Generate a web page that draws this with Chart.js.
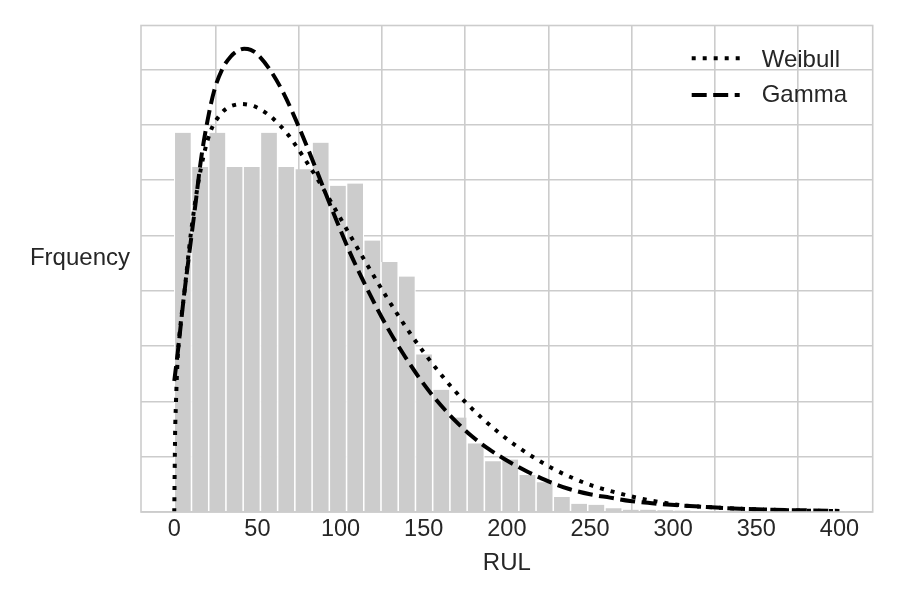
<!DOCTYPE html>
<html><head><meta charset="utf-8">
<script src="https://cdn.jsdelivr.net/npm/chart.js@4.4.1/dist/chart.umd.min.js"></script>
<style>html,body{margin:0;padding:0;background:#fff;}canvas{display:block;}</style>
</head><body>
<canvas id="c" width="900" height="600"></canvas>
<script>
// ---- data ----
const binStart = 0;
const binWidth = 10.36;
const histDensity = [0.00686,0.00624,0.00686,0.00624,0.00624,0.00686,0.00624,0.00620,0.00668,0.00590,
  0.00594,0.00491,0.00452,0.00426,0.00285,0.00221,0.00171,0.00124,0.00092,0.00095,
  0.00067,0.00054,0.00027,0.00015,0.00013,0.000067,0.000042,0.000042,0.00003,0.000025,
  0.00002,0.000015,0.000012,0.00001,0.000008,0.000006,0.000005,0.000004,0.000003];
const weibullX = [0,0.5,1,2,4,6,10,14,18,22,28,32,36,40,44,48,52,56,60,67,71,79,87,95,103,111,119,127,135,143,151,159,167,175,185,195,205,216,228,240,252,266,278,292,306,320,340,360,380,400];
const weibullY = [0,0.0014,0.00195,0.00275,0.00345,0.00395,0.00504,0.00588,0.00649,0.00690,0.00720,0.00731,0.00736,0.00738,0.00737,0.00734,0.00728,0.00720,0.00710,0.00688,0.00672,0.00636,0.00598,0.00557,0.00515,0.00473,0.00432,0.00392,0.00354,0.00318,0.00285,0.00254,0.00225,0.00199,0.00170,0.00144,0.00121,0.00099,0.00078,0.00061,0.00047,0.00035,0.00026,0.00018,0.00012,0.00009,0.00006,0.00004,0.000025,0.000015];
const gammaX = [0,2,6,9,13,16,20,24,29,34,38,42,46,50,58,66,74,82,90,98,106,114,122,130,139,147,155,163,171,179,189,199,211,223,237,250,262,274,290,304,320,340,360,380,400];
const gammaY = [0.00237,0.00286,0.00395,0.00467,0.00563,0.00636,0.00708,0.00762,0.00802,0.00824,0.00834,0.00838,0.00836,0.00828,0.00798,0.00756,0.00703,0.00645,0.00584,0.00524,0.00467,0.00416,0.00368,0.00324,0.00280,0.00244,0.00212,0.00184,0.00159,0.00137,0.00114,0.00095,0.00075,0.00058,0.00042,0.00032,0.00026,0.00020,0.00015,0.00012,0.00009,0.00006,0.00004,0.00003,0.00002];
const seriesNames = ['Weibull','Gamma'];
const xLabel = 'RUL';
const yLabel = 'Frquency';

const FONT = '"Liberation Sans", Arial, Helvetica, sans-serif';
const TEXT = '#262626';
const GRID = '#cccccc';
Chart.defaults.font.family = FONT;
Chart.defaults.color = TEXT;

const styles = {
  Weibull: {dash:[4,7]},
  Gamma: {dash:[15,6.5]}
};

const histPoints = histDensity.map((v,i)=>({x: binStart + binWidth*(i+0.5), y: v}));
const wPoints = weibullX.map((x,i)=>({x, y: weibullY[i]}));
const gPoints = gammaX.map((x,i)=>({x, y: gammaY[i]}));

const framePlugin = {
  id:'frame',
  afterDatasetsDraw(chart){
    const {ctx, chartArea:a} = chart;
    ctx.save();
    ctx.strokeStyle = GRID; ctx.lineWidth = 1.6;
    ctx.strokeRect(a.left, a.top, a.right-a.left, a.bottom-a.top);
    ctx.restore();
  },
  afterDraw(chart){
    const {ctx, chartArea:a} = chart;
    ctx.save();
    ctx.fillStyle = TEXT;
    ctx.font = '24px ' + FONT;
    ctx.textAlign = 'right'; ctx.textBaseline = 'alphabetic';
    ctx.fillText(yLabel, a.left - 11, a.top + 239);
    const items = [
      {name: seriesNames[0], ds: chart.data.datasets[1], ly: 32.8, ty: 41.2},
      {name: seriesNames[1], ds: chart.data.datasets[2], ly: 69.5, ty: 76.2}
    ];
    items.forEach(it=>{
      ctx.save();
      ctx.strokeStyle = it.ds.borderColor;
      ctx.lineWidth = it.ds.borderWidth;
      ctx.lineCap = 'butt';
      ctx.setLineDash(it.ds.borderDash);
      ctx.beginPath();
      ctx.moveTo(a.right - 181, a.top + it.ly);
      ctx.lineTo(a.right - 133, a.top + it.ly);
      ctx.stroke();
      ctx.restore();
      ctx.fillStyle = TEXT;
      ctx.font = '24px ' + FONT;
      ctx.textAlign = 'left'; ctx.textBaseline = 'alphabetic';
      ctx.fillText(it.name, a.right - 111, a.top + it.ty);
    });
    ctx.restore();
  }
};

new Chart(document.getElementById('c'), {
  type: 'line',
  data: {
    datasets: [
      {type:'bar', label:'hist', data: histPoints, backgroundColor:'#cccccc', borderColor:'#ffffff',
       borderWidth:{left:1.1,right:1.1,top:0,bottom:0}, borderSkipped:'start',
       barPercentage:1, categoryPercentage:1, order:3},
      {type:'line', label: seriesNames[0], data: wPoints, borderColor:'#000000', borderWidth:4,
       borderDash: styles.Weibull.dash, borderCapStyle:'butt', pointRadius:0, fill:false,
       cubicInterpolationMode:'monotone', order:1},
      {type:'line', label: seriesNames[1], data: gPoints, borderColor:'#000000', borderWidth:4,
       borderDash: styles.Gamma.dash, borderCapStyle:'butt', pointRadius:0, fill:false,
       cubicInterpolationMode:'monotone', order:0}
    ]
  },
  options: {
    responsive:false, animation:false, devicePixelRatio:1,
    layout:{padding:{left:141, right:27.3, top:25.5, bottom:22.6}},
    plugins:{legend:{display:false}, tooltip:{enabled:false}},
    scales:{
      x:{type:'linear', min:-20, max:420, offset:false,
         grid:{color:GRID, lineWidth:1.6, drawTicks:false},
         border:{display:false},
         ticks:{stepSize:50, includeBounds:false, autoSkip:false, maxRotation:0, padding:3,
                font:{size:23.5}, color:TEXT, callback:(v)=>String(v)},
         title:{display:true, text:xLabel, font:{size:24}, color:TEXT, padding:{top:2.4, bottom:0}}},
      y:{type:'linear', min:0, max:0.0088,
         grid:{color:GRID, lineWidth:1.6, drawTicks:false},
         border:{display:false},
         ticks:{display:false, stepSize:0.001, includeBounds:false}}
    }
  },
  plugins:[framePlugin]
});
</script>
</body></html>
